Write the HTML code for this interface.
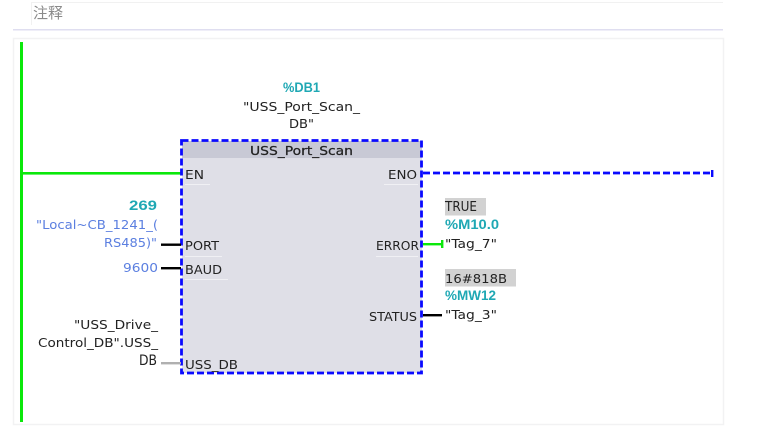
<!DOCTYPE html>
<html><head><meta charset="utf-8"><style>
html,body{margin:0;padding:0;background:#fff;width:761px;height:428px;overflow:hidden}
svg{display:block;filter:blur(.3px)}
text{font-family:"DejaVu Sans","Noto Sans CJK SC",sans-serif;font-size:12.5px;fill:#222}
.c{font-family:"Liberation Sans",sans-serif;font-size:14px;fill:#1fa8b4;font-weight:bold}
.b{fill:#5b7fe0}
</style></head><body>
<svg width="761" height="428" viewBox="0 0 761 428" xmlns="http://www.w3.org/2000/svg">
<rect width="761" height="428" fill="#fff"/>
<path d="M31 2.5H723M31.5 2V25" stroke="#f1f1f1" stroke-width="1" fill="none"/>
<text x="33" y="18" style="font-size:15px;fill:#8a8a8a">注释</text>
<rect x="13" y="29" width="710" height="1.5" fill="#dfdef0"/>
<rect x="13.5" y="38.5" width="710" height="386" fill="#fff" stroke="#f2f2f3" stroke-width="1.5"/>
<rect x="20" y="42" width="3" height="380" fill="#0be80b"/>
<rect x="22" y="172" width="159" height="2.6" fill="#0be80b"/>
<rect x="182" y="141" width="240" height="232" fill="#dfdfe7"/>
<rect x="182" y="141" width="240" height="17" fill="#c8c9d5"/>
<rect x="185" y="184" width="25" height="1" fill="#f0f0f4"/>
<rect x="185" y="256" width="37" height="1" fill="#f0f0f4"/>
<rect x="185" y="279" width="43" height="1" fill="#f0f0f4"/>
<rect x="384" y="184" width="34" height="1" fill="#f0f0f4"/>
<rect x="376" y="256" width="42" height="1" fill="#f0f0f4"/>
<rect x="181.5" y="140.5" width="240" height="232.5" fill="none" stroke="#0a0aff" stroke-width="2.8" stroke-dasharray="7 3"/>
<path d="M423 173H711" stroke="#0a0aff" stroke-width="2.8" stroke-dasharray="7 3" fill="none"/>
<rect x="711" y="170" width="2.4" height="7" fill="#0a0aff"/>
<rect x="161" y="243.5" width="20" height="2.4" fill="#000"/>
<rect x="161" y="267" width="20" height="2.4" fill="#000"/>
<rect x="161" y="362" width="20" height="2.4" fill="#b0b0b0"/>
<rect x="423" y="243" width="19" height="2.4" fill="#0be80b"/>
<rect x="441" y="240" width="2.4" height="8" fill="#0be80b"/>
<rect x="423" y="314" width="19" height="2.4" fill="#000"/>
<rect x="445" y="198" width="41" height="17.5" fill="#d2d2d2"/>
<rect x="445" y="269" width="71" height="17.5" fill="#d2d2d2"/>

<text class="c" x="283" y="92" textLength="37" lengthAdjust="spacingAndGlyphs">%DB1</text>
<text x="243" y="111" textLength="117" lengthAdjust="spacingAndGlyphs">"USS_Port_Scan_</text>
<text x="289" y="128" textLength="25" lengthAdjust="spacingAndGlyphs">DB"</text>
<text x="250" y="155" textLength="103" lengthAdjust="spacingAndGlyphs" style="fill:#222;stroke:#222;stroke-width:.25px">USS_Port_Scan</text>
<text x="185" y="179" textLength="19" lengthAdjust="spacingAndGlyphs">EN</text>
<text x="388" y="179" textLength="29" lengthAdjust="spacingAndGlyphs">ENO</text>
<text x="185" y="250" textLength="34" lengthAdjust="spacingAndGlyphs">PORT</text>
<text x="185" y="274" textLength="37" lengthAdjust="spacingAndGlyphs">BAUD</text>
<text x="185" y="369" textLength="53" lengthAdjust="spacingAndGlyphs">USS_DB</text>
<text x="376" y="250" textLength="43" lengthAdjust="spacingAndGlyphs">ERROR</text>
<text x="369" y="321" textLength="48" lengthAdjust="spacingAndGlyphs">STATUS</text>
<text class="c" x="129" y="210" textLength="28" lengthAdjust="spacingAndGlyphs">269</text>
<text class="b" x="36" y="229" textLength="122" lengthAdjust="spacingAndGlyphs">"Local~CB_1241_(</text>
<text class="b" x="104" y="247" textLength="53" lengthAdjust="spacingAndGlyphs">RS485)"</text>
<text class="b" x="123" y="272" textLength="35" lengthAdjust="spacingAndGlyphs">9600</text>
<text x="74" y="329" textLength="84" lengthAdjust="spacingAndGlyphs">"USS_Drive_</text>
<text x="38" y="347" textLength="120" lengthAdjust="spacingAndGlyphs">Control_DB".USS_</text>
<text x="139" y="365" textLength="18" lengthAdjust="spacingAndGlyphs" style="font-size:14px">DB</text>
<text x="445" y="211" textLength="32" lengthAdjust="spacingAndGlyphs" style="font-size:13.5px">TRUE</text>
<text class="c" x="445" y="229" textLength="54" lengthAdjust="spacingAndGlyphs">%M10.0</text>
<text x="445" y="248" textLength="52" lengthAdjust="spacingAndGlyphs">"Tag_7"</text>
<text x="445" y="283" textLength="62" lengthAdjust="spacingAndGlyphs">16#818B</text>
<text class="c" x="445" y="300" textLength="51" lengthAdjust="spacingAndGlyphs">%MW12</text>
<text x="445" y="319" textLength="52" lengthAdjust="spacingAndGlyphs">"Tag_3"</text>
</svg>
</body></html>
